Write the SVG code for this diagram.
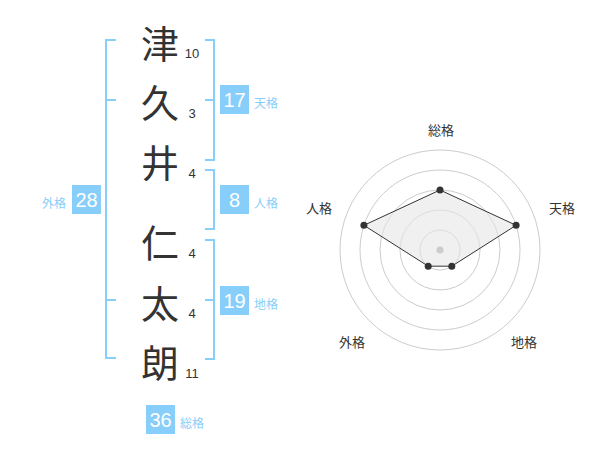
<svg xmlns="http://www.w3.org/2000/svg" width="600" height="470" viewBox="0 0 600 470">
<style>
.kanji{font-family:"Noto Sans CJK JP","Noto Sans",sans-serif;font-size:38px;fill:#333;text-anchor:middle;dominant-baseline:central}
.num{font-family:"Liberation Sans",Arial,sans-serif;font-size:13px;fill:#333;text-anchor:middle}
.br{fill:none;stroke:#87cefa;stroke-width:2}
.box{fill:#87cefa}
.bnum{font-family:"Liberation Sans",Arial,sans-serif;font-size:20px;fill:#fff;text-anchor:middle}
.blab{font-family:"Noto Sans CJK JP",sans-serif;font-size:12px;fill:#87cefa}
.ring{fill:none;stroke:#ccc;stroke-width:1}
.rlab{font-family:"Noto Sans CJK JP",sans-serif;font-size:13px;fill:#333;text-anchor:middle}
.pt{fill:#333}
</style>
<rect width="600" height="470" fill="#fff"/>
<g id="chars">
<text class="kanji" x="160" y="41">津</text>
<text class="kanji" x="160" y="100">久</text>
<text class="kanji" x="160" y="160">井</text>
<text class="kanji" x="160" y="240">仁</text>
<text class="kanji" x="160" y="301">太</text>
<text class="kanji" x="160" y="360">朗</text>
<text class="num" x="192" y="58">10</text>
<text class="num" x="192" y="118">3</text>
<text class="num" x="192" y="178">4</text>
<text class="num" x="192" y="258">4</text>
<text class="num" x="192" y="318">4</text>
<text class="num" x="192" y="378">11</text>
</g>
<g id="connectors">
<path class="br" d="M116,40 H106 V358 H116 M106,100 H116 M106,300 H116"/>
<path class="br" d="M205,40 H214 V160 H205 M214,100 H205"/>
<path class="br" d="M205,170 H214 V229 H205"/>
<path class="br" d="M205,240 H214 V359 H205 M214,300 H205"/>
</g>
<g id="tenkaku">
<rect class="box" x="220" y="85" width="29" height="29"/>
<text class="bnum" x="234.5" y="107">17</text>
<text class="blab" x="254" y="108">天格</text>
</g>
<g id="jinkaku">
<rect class="box" x="220" y="185" width="29" height="29"/>
<text class="bnum" x="234.5" y="207">8</text>
<text class="blab" x="254" y="208">人格</text>
</g>
<g id="chikaku">
<rect class="box" x="220" y="286" width="29" height="29"/>
<text class="bnum" x="234.5" y="308">19</text>
<text class="blab" x="254" y="309">地格</text>
</g>
<g id="gaikaku">
<rect class="box" x="72" y="185" width="29" height="29"/>
<text class="bnum" x="86.5" y="207">28</text>
<text class="blab" x="42" y="208">外格</text>
</g>
<g id="soukaku">
<rect class="box" x="146" y="405" width="29" height="29"/>
<text class="bnum" x="160.5" y="427">36</text>
<text class="blab" x="180" y="428">総格</text>
</g>
<g id="radar">
<circle class="ring" cx="440" cy="250" r="20"/>
<circle class="ring" cx="440" cy="250" r="40"/>
<circle class="ring" cx="440" cy="250" r="60"/>
<circle class="ring" cx="440" cy="250" r="80"/>
<circle class="ring" cx="440" cy="250" r="100"/>
<polygon points="440,190 516.1,225.3 451.8,266.2 428.2,266.2 363.9,225.3" fill="#e6e6e6" fill-opacity="0.6" stroke="#333" stroke-width="1"/>
<circle cx="440" cy="250" r="3.5" fill="#ccc"/>
<circle class="pt" cx="440" cy="190" r="3.5"/>
<circle class="pt" cx="516.1" cy="225.3" r="3.5"/>
<circle class="pt" cx="451.8" cy="266.2" r="3.5"/>
<circle class="pt" cx="428.2" cy="266.2" r="3.5"/>
<circle class="pt" cx="363.9" cy="225.3" r="3.5"/>
<text class="rlab" x="441" y="135">総格</text>
<text class="rlab" x="562" y="213">天格</text>
<text class="rlab" x="524" y="347">地格</text>
<text class="rlab" x="352" y="347">外格</text>
<text class="rlab" x="319" y="213">人格</text>
</g>
</svg>
